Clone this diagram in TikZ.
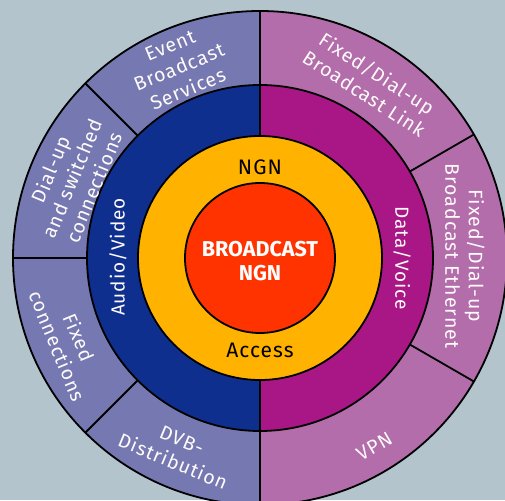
\documentclass[tikz,border=0pt]{standalone}
\usepackage{fontspec}
\setmainfont{Fira Sans}
\newfontfamily\lblfont[LetterSpace=5]{Fira Sans}
\begin{document}
\begin{tikzpicture}[x=1pt,y=1pt,
  bordr/.style={draw=black,line width=1.8pt},
  outerlbl/.style={text=white!94!pink,align=center,inner sep=0pt,
    font={\lblfont\fontsize{19.5}{23.5}\selectfont}},
  innerlbl/.style={text=white!94!pink,align=center,inner sep=0pt,
    font={\lblfont\fontsize{19}{22}\selectfont}},
  corelbl/.style={text=black,align=center,inner sep=0pt,
    font={\lblfont\fontsize{21}{22}\selectfont}}]
\definecolor{bgc}{HTML}{B4C4CC}
\definecolor{avout}{HTML}{7679B1}
\definecolor{dvout}{HTML}{B26DAA}
\definecolor{avmid}{HTML}{0F2F8F}
\definecolor{dvmid}{HTML}{A91787}
\definecolor{ngnring}{HTML}{FFB200}
\definecolor{coredisc}{HTML}{FF3300}
% canvas
\useasboundingbox (-260,-242) rectangle (245,258);
\clip (-260,-242) rectangle (245,258);
\fill[bgc] (-260,-242) rectangle (245,258);
% outer ring halves
\fill[avout] (0,0) -- (90:247) arc[start angle=90,end angle=270,radius=247] -- cycle;
\fill[dvout] (0,0) -- (-90:247) arc[start angle=-90,end angle=90,radius=247] -- cycle;
% middle ring halves
\fill[avmid] (0,0) -- (90:173) arc[start angle=90,end angle=270,radius=173] -- cycle;
\fill[dvmid] (0,0) -- (-90:173) arc[start angle=-90,end angle=90,radius=173] -- cycle;
% segment dividers
\foreach \a in {135,180,225,30,-30}
  \draw[bordr] (\a:173) -- (\a:247);
\draw[bordr] (90:122) -- (90:247);
\draw[bordr] (-90:122) -- (-90:247);
% ring outlines
\draw[bordr] (0,0) circle[radius=247];
\draw[bordr] (0,0) circle[radius=173];
% NGN / Access ring and core
\filldraw[fill=ngnring,bordr] (0,0) circle[radius=122];
\filldraw[fill=coredisc,bordr] (0,0) circle[radius=75];
% labels
\node[outerlbl,rotate=22.5] (evt) at (113:207) {Event\\Broadcast\\Services};
\node[outerlbl,rotate=67.5] (dial) at (157:204) {Dial-up\\and switched\\connections};
\node[outerlbl,rotate=-67.5] (fix) at (203.6:209) {Fixed\\connections};
\node[outerlbl,rotate=-22.5] (dvb) at (246.8:210) {DVB-\\Distribution};
\node[outerlbl,rotate=-33] (link) at (57.6:207) {Fixed/Dial-up\\Broadcast Link};
\node[outerlbl,rotate=-90] (eth) at (0.5:205) {Fixed/Dial-up\\Broadcast Ethernet};
\node[outerlbl,rotate=30] (vpn) at (-58.7:220) {VPN};
\node[innerlbl,rotate=90] (av) at (-142,1) {Audio/Video};
\node[innerlbl,rotate=-90] (dv) at (142,0) {Data/Voice};
\node[corelbl] (ngn) at (0,91) {NGN};
\node[corelbl] (acc) at (0,-92) {Access};
\node[text=white,align=center,inner sep=0pt,
  font={\fontsize{21.5}{24}\selectfont\bfseries}] (core) at (0,-3) {BROADCAST\\NGN};
\end{tikzpicture}
\end{document}
